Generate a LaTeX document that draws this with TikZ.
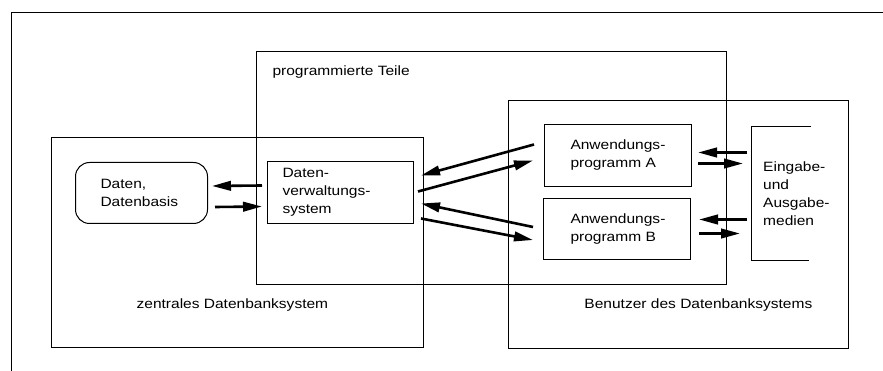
\documentclass[tikz,border=0pt]{standalone}
\usepackage{fontspec}
\setmainfont{Liberation Sans}[FakeStretch=1.15]
\usetikzlibrary{arrows.meta,positioning,calc}

\begin{document}
\begin{tikzpicture}[x=1pt,y=-1pt]
    % Styles
    \tikzstyle{every node}=[font=\fontsize{13.5}{18}\selectfont]
    \tikzstyle{frame}=[line width=0.8pt]
    \tikzstyle{area}=[draw,line width=0.8pt,anchor=north west,inner sep=0pt]
    \tikzstyle{box}=[draw,line width=1pt,anchor=north west,align=left,
      execute at begin node={\hyphenpenalty=10000\exhyphenpenalty=10000}]
    \tikzstyle{thick arrow}=[line width=2.6pt,-{Triangle[length=19pt,width=9.5pt]}]

    \useasboundingbox (0,0) rectangle (883,371);

    % The graphic
    \draw[frame] (11,371) -- (11,12) -- (883,12);

    \node[area,minimum width=372,minimum height=210] (zentral) at (51,137) {};
    \node[area,minimum width=470,minimum height=233] (progteile) at (256,51) {};
    \node[area,minimum width=340,minimum height=248] (benutzer) at (508,100) {};

    \node[anchor=west] (progtitle) at ($(progteile.north west)+(13,21)$)
      {programmierte Teile};
    \node (zentraltitle) at ($(zentral.south)+(-5,-43)$)
      {zentrales Datenbanksystem};
    \node (benutzertitle) at ($(benutzer.south)+(20,-44)$)
      {Benutzer des Datenbanksystems};

    \node[box,rounded corners=14pt,inner xsep=25pt,text width=82pt,
      minimum height=61] (daten) at (75,162) {Daten,\\Datenbasis};
    \node[box,inner xsep=15pt,text width=116pt,minimum height=62]
      (dvs) at (267,161) {Daten-\\verwaltungs-\\system};
    \node[box,inner xsep=26pt,text width=95pt,minimum height=62]
      (progA) at (544,124) {Anwendungs-\\programm A};
    \node[box,inner xsep=27pt,text width=93pt,minimum height=61]
      (progB) at (543,198) {Anwendungs-\\programm B};
    \node[anchor=north west,align=left,inner xsep=12pt,text width=70pt,
      minimum height=134] (medien) at (751,126)
      {Eingabe-\\und\\Ausgabe-\\medien};
    \draw[frame] ([xshift=60pt]medien.north west) -- (medien.north west)
      -- (medien.south west) -- ([xshift=58pt]medien.south west);

    % Arrows
    \draw[thick arrow] ($(dvs.west)+(-5,-7)$) -- ($(daten.east)+(4,-7)$);
    \draw[thick arrow] ($(daten.east)+(7,14)$) -- ($(dvs.west)+(-5,14)$);

    \draw[thick arrow] ($(progA.west)+(-10,-11)$) -- ($(dvs.east)+(7,-17)$);
    \draw[thick arrow] ($(dvs.east)+(4,-1)$) -- ($(progA.west)+(-11,5)$);
    \draw[thick arrow] ($(progB.west)+(-10,-2)$) -- ($(dvs.east)+(7,11)$);
    \draw[thick arrow] ($(dvs.east)+(7,26)$) -- ($(progB.west)+(-10,11)$);

    \draw[thick arrow] ($(progA.east -| medien.west)+(-4,-3)$) -- ($(progA.east)+(6,-3)$);
    \draw[thick arrow] ($(progA.east)+(6,8)$) -- ($(progA.east -| medien.west)+(-8,8)$);
    \draw[thick arrow] ($(progB.east -| medien.west)+(-4,-9.5)$) -- ($(progB.east)+(8,-9.5)$);
    \draw[thick arrow] ($(progB.east)+(8,4.5)$) -- ($(progB.east -| medien.west)+(-11,4.5)$);
\end{tikzpicture}
\end{document}
